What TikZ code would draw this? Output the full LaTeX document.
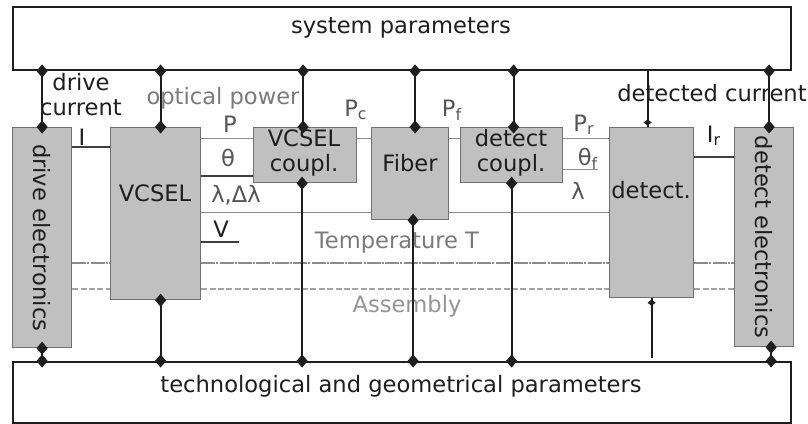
\documentclass[tikz,border=0pt]{standalone}
\usepackage{fontspec}
\setmainfont{DejaVu Sans}
\usetikzlibrary{positioning,calc,shapes.geometric}
\definecolor{ink}{HTML}{1E1E1E}
\definecolor{blkfill}{HTML}{C0C0C0}
\definecolor{blkline}{HTML}{707070}
\definecolor{sigline}{HTML}{8C8C8C}
\definecolor{siglbl}{HTML}{555555}
\definecolor{envlbl}{HTML}{7A7A7A}

\begin{document}
\begin{tikzpicture}[
  x=0.5pt, y=-0.5pt,
  font=\fontsize{11.3}{12.5}\selectfont,
  every node/.append style={text=ink},
  parbox/.style={draw=ink, line width=1pt, anchor=north west, inner sep=0pt},
  blk/.style={draw=blkline, fill=blkfill, line width=0.6pt, anchor=north west, inner sep=0pt},
  link/.style={draw=ink, line width=1pt},
  sig/.style={draw=sigline, line width=0.5pt},
  sigdark/.style={draw=ink!85, line width=0.7pt},
  jn/.style={diamond, fill=ink, inner sep=0pt, minimum width=6pt, minimum height=7pt},
  jnsmall/.style={diamond, fill=ink, inner sep=0pt, minimum width=4.5pt, minimum height=3.5pt},
  sublbl/.style={text=siglbl},
  templine/.style={draw=sigline, line width=0.6pt, dash pattern=on 7pt off 0.6pt on 1pt off 0.6pt},
  asmline/.style={draw=sigline!80, line width=0.6pt, dash pattern=on 3pt off 1.2pt},
]
\useasboundingbox (0,0) rectangle (808,423);
% --- parameter bars ---
\node[parbox, minimum width=389pt, minimum height=31.5pt] (sys) at (12,6) {};
\node (syslbl) at (401,28) {system parameters};
\node[parbox, minimum width=389pt, minimum height=30.5pt] (tech) at (12,361) {};
\node (techlbl) at (401,386) {technological and geometrical parameters};
% --- blocks ---
\node[blk, minimum width=29.5pt, minimum height=110pt] (drvel) at (12,127) {};
\node[blk, minimum width=45pt, minimum height=86pt] (vcsel) at (110,127) {};
\node[blk, minimum width=51.5pt, minimum height=27.5pt] (vcoup) at (253,127) {};
\node[blk, minimum width=38.5pt, minimum height=46pt] (fiber) at (371,127) {};
\node[blk, minimum width=51pt, minimum height=27.5pt] (dcoup) at (460,127) {};
\node[blk, minimum width=42pt, minimum height=85pt] (det) at (609,127) {};
\node[blk, minimum width=29.5pt, minimum height=109.5pt] (detel) at (734,127) {};
% block texts
\node[rotate=-90] (drvellbl) at (drvel.center) {drive electronics};
\node (vcsellbl) at (155,193) {VCSEL};
\node[align=center] (vcouplbl) at (304,153) {VCSEL\\coupl.};
\node (fiberlbl) at (410,163) {Fiber};
\node[align=center] (dcouplbl) at (511,153) {detect\\coupl.};
\node (detlbl) at (651,190) {detect.};
\node[rotate=-90] (detellbl) at (detel.center) {detect electronics};
% --- environment lines ---
\foreach \yy/\sty in {263/templine, 289/asmline} {
  \draw[\sty] (drvel.east |- 0,\yy) -- (vcsel.west |- 0,\yy);
  \draw[\sty] (vcsel.east |- 0,\yy) -- (det.west |- 0,\yy);
  \draw[\sty] (det.east |- 0,\yy) -- (detel.west |- 0,\yy);
}
\node[text=envlbl] (templbl) at (397,243) {Temperature T};
\node[text=envlbl!80] (asmlbl) at (407,306) {Assembly};
% --- signal lines ---
\coordinate (vend) at (239,242);
\coordinate (thfend) at (598,169);
\draw[sigdark] (drvel.east |- 0,147) -- (vcsel.west |- 0,147);
\draw[sig] (vcsel.east |- 0,138) -- (vcoup.west |- 0,138);
\draw[sigdark] (vcsel.east |- 0,176) -- (vcoup.west |- 0,176);
\draw[sig] (vcsel.east |- 0,212) -- (fiber.west |- 0,212);
\draw[sig] (fiber.east |- 0,212) -- (det.west |- 0,212);
\draw[sigdark] (vcsel.east |- vend) -- (vend);
\draw[sig] (vcoup.east |- 0,138) -- (fiber.west |- 0,138);
\draw[sig] (fiber.east |- 0,138) -- (dcoup.west |- 0,138);
\draw[sig] (dcoup.east |- 0,138) -- (det.west |- 0,138);
\draw[sig] (dcoup.east |- thfend) -- (thfend);
\draw[sigdark] (det.east |- 0,157) -- (detel.west |- 0,157);
% signal labels
\node (ilbl) at (82,137) {I};
\node[sublbl] (plbl) at (230,124) {P};
\node[sublbl] (thlbl) at (228,158) {θ};
\node[sublbl] (lamlbl) at (236,195) {λ,Δλ};
\node (vlbl) at (221,229) {V};
\node[sublbl] (pclbl) at (356,110) {P\textsubscript{c}};
\node[sublbl] (pflbl) at (452,110) {P\textsubscript{f}};
\node[sublbl] (prlbl) at (584,125) {P\textsubscript{r}};
\node[sublbl] (thflbl) at (588,159) {θ\textsubscript{f}};
\node[sublbl] (lamflbl) at (578,191) {λ};
\node (irlbl) at (714,136) {I\textsubscript{r}};
% --- parameter connectors ---
\foreach \b/\dx in {drvel/0, vcsel/5, vcoup/-2, fiber/5, dcoup/2, detel/5} {
  \draw[link] ([xshift=\dx*0.5pt]\b.north) node[jn]{} -- ([xshift=\dx*0.5pt]\b.north |- sys.south) node[jn]{};
}
\foreach \b/\dx in {drvel/0, vcsel/5, vcoup/-3, fiber/3, dcoup/0, detel/7} {
  \draw[link] ([xshift=\dx*0.5pt]\b.south) node[jn]{} -- ([xshift=\dx*0.5pt]\b.south |- tech.north) node[jn]{};
}
\draw[link] ([xshift=-2pt]det.north) node[jnsmall, anchor=south]{} -- ([xshift=-2pt]det.north |- sys.south);
\coordinate (detend) at ([yshift=1.5pt]det.south |- tech.north);
\draw[link] (det.south) node[jnsmall, anchor=north]{} -- (detend);
% --- flow captions ---
\node[align=center] (drvcur) at (81,95) {drive\\current};
\node[text=envlbl] (optpow) at (223,98) {optical power};
\node (detcur) at (712,93) {detected current};
\end{tikzpicture}
\end{document}
